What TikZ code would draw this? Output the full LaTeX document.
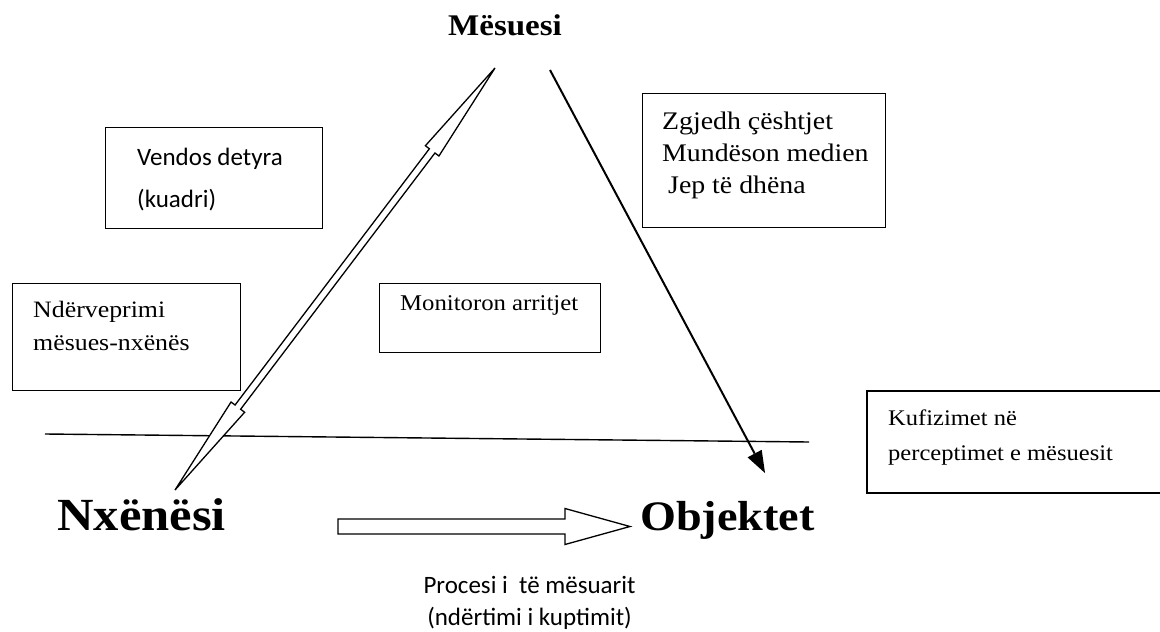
\documentclass[tikz,border=0pt]{standalone}
\usepackage{fontspec}
\setmainfont{Liberation Serif}[FakeStretch=1.1]
\newfontfamily\calib{Carlito}
\usetikzlibrary{calc}
\begin{document}
\begin{tikzpicture}[x=1pt,y=-1pt,
  box/.style={draw,line width=1.4pt,inner sep=0pt,anchor=north west},
  txt/.style={inner sep=0pt,anchor=base west},
  title/.style={inner sep=0pt,anchor=base west,font=\bfseries},
  hollow/.style={draw,line width=1.3pt,fill=white,line join=miter},
  thinline/.style={line width=1.4pt}]
\useasboundingbox (0,0) rectangle (1160,632);
\fill[white] (0,0) rectangle (1160,632);

% titles
\node[title,font=\bfseries\fontsize{30}{30}\selectfont] (mes) at (448,35) {Mësuesi};
\node[title,font=\bfseries\fontsize{46}{46}\selectfont] (nx) at (57,530) {Nxënësi};
\node[title,font=\bfseries\fontsize{42}{42}\selectfont] (obj) at (640,530) {Objektet};

% boxes
\node[box,minimum width=217pt,minimum height=101pt] (bvend) at (105,127) {};
\node[txt,font=\calib\fontsize{25}{25}\selectfont] (v1) at (137,165) {Vendos detyra};
\node[txt,font=\calib\fontsize{25}{25}\selectfont] (v2) at (137,207) {(kuadri)};

\node[box,minimum width=228pt,minimum height=107pt] (bnd) at (12,283) {};
\node[txt,font=\fontsize{23.5}{23.5}\selectfont] (n1) at (33,317) {Ndërveprimi};
\node[txt,font=\fontsize{23.5}{23.5}\selectfont] (n2) at (33,350) {mësues-nxënës};

\node[box,minimum width=221pt,minimum height=69pt] (bmon) at (379,283) {};
\node[txt,font=\fontsize{22.5}{22.5}\selectfont] (m1) at (400,310) {Monitoron arritjet};

\node[box,minimum width=243pt,minimum height=134pt] (bzg) at (642,93) {};
\node[txt,font=\fontsize{25.3}{25.3}\selectfont] (z1) at (662,129) {Zgjedh çështjet};
\node[txt,font=\fontsize{25.3}{25.3}\selectfont] (z2) at (662,161) {Mundëson medien};
\node[txt,font=\fontsize{25.3}{25.3}\selectfont] (z3) at (668,193) {Jep të dhëna};

\draw[line width=1.4pt] (1162,391) -- (867,391) -- (867,493) -- (1162,493);
\node[txt,font=\fontsize{22.3}{22.3}\selectfont] (k1) at (888,425) {Kufizimet në};
\node[txt,font=\fontsize{22.3}{22.3}\selectfont] (k2) at (888,460) {perceptimet e mësuesit};

% horizontal line
\coordinate (hl) at (45,434);
\coordinate (hr) at (809,442);
\draw[thinline] (hl) -- (hr);

% double arrow Mesuesi <-> Nxenesi
\coordinate (ta) at (495,68);
\coordinate (tb) at (175,490);
\coordinate (ha) at ($(ta)!104pt!(tb)$);
\coordinate (hb) at ($(tb)!104pt!(ta)$);
\draw[hollow] (ta)
  -- ($(ha)!8.5pt!90:(tb)$) -- ($(ha)!3.5pt!90:(tb)$)
  -- ($(hb)!3.5pt!-90:(ta)$) -- ($(hb)!8.5pt!-90:(ta)$)
  -- (tb)
  -- ($(hb)!8.5pt!90:(ta)$) -- ($(hb)!3.5pt!90:(ta)$)
  -- ($(ha)!3.5pt!-90:(tb)$) -- ($(ha)!8.5pt!-90:(tb)$)
  -- cycle;

% single arrow Mesuesi -> Objektet
\coordinate (sa) at (550,70);
\coordinate (sb) at (765,473);
\coordinate (sh) at ($(sb)!22pt!(sa)$);
\draw[line width=2pt] (sa) -- (sh);
\fill ($(sh)!8pt!90:(sb)$) -- (sb) -- ($(sh)!8pt!-90:(sb)$) -- cycle;

% bottom hollow arrow Nxenesi -> Objektet
\coordinate (pa) at (338,526.5);
\coordinate (pb) at (630,526.5);
\coordinate (pc) at (565,526.5);
\draw[hollow] ($(pa)+(0,-7.5)$) -- ($(pc)+(0,-7.5)$) -- ($(pc)+(0,-18)$) -- (pb)
  -- ($(pc)+(0,18)$) -- ($(pc)+(0,7.5)$) -- ($(pa)+(0,7.5)$) -- cycle;

% caption
\node[inner sep=0pt,anchor=base,font=\calib\fontsize{25}{25}\selectfont] (c1) at (529.5,593) {Procesi i \ të mësuarit};
\node[inner sep=0pt,anchor=base,font=\calib\fontsize{25}{25}\selectfont] (c2) at (529.5,625) {(ndërtimi i kuptimit)};
\end{tikzpicture}
\end{document}
